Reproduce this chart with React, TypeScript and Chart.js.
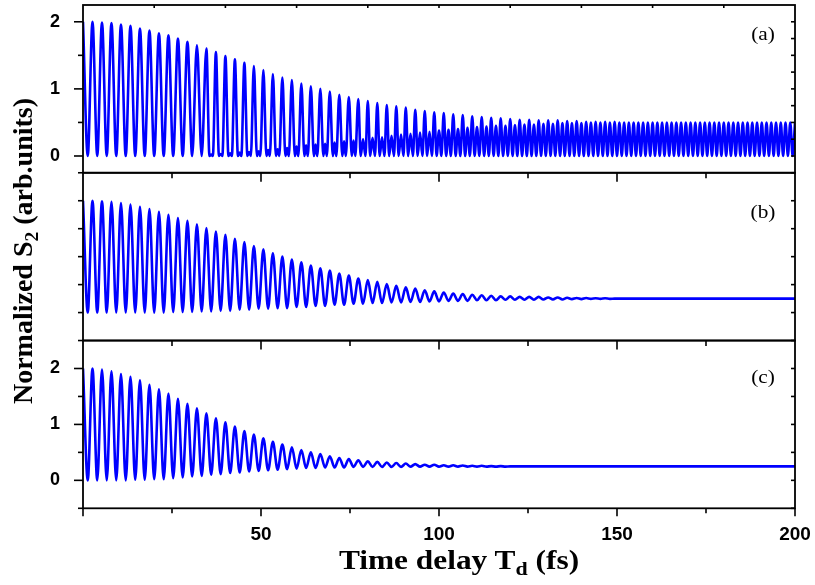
import React, { useEffect, useRef } from 'react';
import { Chart, registerables } from 'chart.js';

Chart.register(...registerables);

// ---- data ----
// spacing of the main oscillation peaks (fs)
const PERIOD = 2.6667;
const X_MIN = 0;
const X_MAX = 200;

// panel (a): main peak heights (one per period, starting at t = 0)
const aPeaks = [
  2.0, 2.0, 1.99, 1.98, 1.96, 1.94, 1.9, 1.87, 1.83, 1.8,
  1.75, 1.7, 1.65, 1.6, 1.55, 1.49, 1.44, 1.39, 1.34, 1.28,
  1.22, 1.17, 1.13, 1.08, 1.04, 1.0, 0.96, 0.91, 0.88, 0.85,
  0.82, 0.79, 0.76, 0.74, 0.72, 0.69, 0.67, 0.65, 0.64, 0.62,
  0.61, 0.59, 0.58, 0.57, 0.56, 0.55, 0.54, 0.54, 0.53, 0.53,
  0.53, 0.52, 0.52, 0.51, 0.51, 0.51, 0.51, 0.5, 0.5, 0.5,
  0.5, 0.5, 0.5, 0.5, 0.5, 0.5, 0.5, 0.5, 0.5, 0.5,
  0.5, 0.5, 0.5, 0.5, 0.5, 0.5,
];
// panel (a): secondary peak between main peaks (0 = no secondary peak)
const aSubPeaks = [
  0, 0, 0, 0, 0, 0, 0, 0, 0, 0,
  0, 0, 0, 0.02, 0.03, 0.04, 0.05, 0.06, 0.07, 0.09,
  0.1, 0.12, 0.14, 0.16, 0.17, 0.18, 0.2, 0.22, 0.23, 0.25,
  0.27, 0.28, 0.3, 0.32, 0.33, 0.35, 0.36, 0.38, 0.39, 0.4,
  0.42, 0.43, 0.44, 0.45, 0.45, 0.46, 0.47, 0.47, 0.48, 0.48,
  0.49, 0.49, 0.49, 0.5, 0.5, 0.5, 0.5, 0.5, 0.5, 0.5,
  0.5, 0.5, 0.5, 0.5, 0.5, 0.5, 0.5, 0.5, 0.5, 0.5,
  0.5, 0.5, 0.5, 0.5, 0.5,
];
const aTrough = 0;

// panel (b): peaks and troughs per period, then flat level
const bPeaks = [
  2.0, 2.0, 1.99, 1.98, 1.96, 1.93, 1.89, 1.85, 1.8, 1.75,
  1.69, 1.64, 1.58, 1.51, 1.45, 1.39, 1.32, 1.26, 1.19, 1.13,
  1.06, 1.0, 0.95, 0.9, 0.84, 0.79, 0.75, 0.7, 0.66, 0.61,
  0.58, 0.55, 0.51, 0.48, 0.45, 0.43, 0.4, 0.38, 0.36, 0.34,
  0.33, 0.32, 0.31, 0.3, 0.29, 0.29, 0.28, 0.28, 0.28, 0.27,
  0.27, 0.265, 0.26, 0.26, 0.255, 0.255,
];
const bTroughs = [
  0, 0, 0, 0, 0, 0, 0, 0, 0, 0.01,
  0.01, 0.01, 0.02, 0.02, 0.03, 0.03, 0.05, 0.05, 0.07, 0.07,
  0.08, 0.08, 0.1, 0.1, 0.12, 0.12, 0.14, 0.14, 0.16, 0.16,
  0.17, 0.17, 0.18, 0.18, 0.19, 0.19, 0.2, 0.2, 0.21, 0.21,
  0.21, 0.22, 0.22, 0.22, 0.23, 0.23, 0.23, 0.23, 0.235, 0.235,
  0.235, 0.24, 0.24, 0.245, 0.245, 0.245,
];
const bTail = 0.25;

// panel (c): peaks and troughs per period, then flat level
const cPeaks = [
  2.0, 2.0, 1.98, 1.95, 1.9, 1.85, 1.79, 1.71, 1.63, 1.55,
  1.46, 1.37, 1.29, 1.2, 1.11, 1.04, 0.96, 0.88, 0.82, 0.75,
  0.69, 0.64, 0.59, 0.54, 0.5, 0.47, 0.43, 0.4, 0.38, 0.36,
  0.34, 0.33, 0.32, 0.31, 0.3, 0.29, 0.28, 0.28, 0.27, 0.27,
  0.265, 0.26, 0.26, 0.255, 0.255,
];
const cTroughs = [
  0, 0, 0, 0, 0, 0.01, 0.01, 0.02, 0.02, 0.04,
  0.05, 0.07, 0.08, 0.1, 0.11, 0.13, 0.14, 0.16, 0.17, 0.18,
  0.19, 0.2, 0.21, 0.22, 0.22, 0.23, 0.23, 0.23, 0.24, 0.24,
  0.24, 0.24, 0.24, 0.24, 0.245, 0.245, 0.245, 0.245, 0.245, 0.245,
  0.245, 0.245, 0.245, 0.245, 0.245,
];
const cTail = 0.25;

// tick labels
const xTickLabels = ['50', '100', '150', '200'];
const yTickLabelsA = ['0', '1', '2'];
const yTickLabelsB: string[] = [];
const yTickLabelsC = ['0', '1', '2'];
const panelLabels = ['(a)', '(b)', '(c)'];

type Pt = { x: number; y: number };

function buildA(): Pt[] {
  const pts: Pt[] = [];
  for (let k = 0; k < aPeaks.length; k++) {
    const t = k * PERIOD;
    pts.push({ x: t, y: aPeaks[k] });
    if (k < aSubPeaks.length) {
      const s = aSubPeaks[k];
      if (s > 0) {
        const f = s >= 0.25 ? 0.25 : 0.32;
        pts.push({ x: t + f * PERIOD, y: aTrough });
        pts.push({ x: t + 0.5 * PERIOD, y: s });
        pts.push({ x: t + (1 - f) * PERIOD, y: aTrough });
      } else {
        pts.push({ x: t + 0.5 * PERIOD, y: aTrough });
      }
    }
  }
  return pts;
}

function buildOsc(peaks: number[], troughs: number[], tail: number): Pt[] {
  const pts: Pt[] = [];
  for (let k = 0; k < peaks.length; k++) {
    pts.push({ x: k * PERIOD, y: peaks[k] });
    if (k < troughs.length) pts.push({ x: (k + 0.5) * PERIOD, y: troughs[k] });
  }
  pts.push({ x: peaks.length * PERIOD, y: tail });
  pts.push({ x: X_MAX, y: tail });
  return pts;
}

const BLUE = '#0000FF';
const SANS = '"Liberation Sans", Arial, Helvetica, sans-serif';
const SERIF = '"Liberation Serif", "Times New Roman", Times, serif';

// tick layout for the frame (positions in data units, drawn via the scales)
const PANELS = [
  { id: 'yA', leftMajor: [0, 1, 2], leftMinor: [0.5, 1.5], right: [0, 0.25, 0.5, 0.75, 1, 1.25, 1.5, 1.75, 2], topInward: [20, 40, 60, 80, 100, 120, 140, 160, 180], topMajor: [] as number[], topMinor: [] as number[] },
  { id: 'yB', leftMajor: [] as number[], leftMinor: [0, 0.5, 1, 1.5, 2, 2.5], right: [0, 0.5, 1, 1.5, 2, 2.5], topInward: [] as number[], topMajor: [50, 100, 150], topMinor: [25, 75, 125, 175] },
  { id: 'yC', leftMajor: [0, 1, 2], leftMinor: [-0.5, 0.5, 1.5, 2.5], right: [-0.5, 0, 0.5, 1, 1.5, 2, 2.5], topInward: [] as number[], topMajor: [50, 100, 150], topMinor: [25, 75, 125, 175] },
];
const bottomMajor = [0, 50, 100, 150, 200];
const bottomMinor = [25, 75, 125, 175];

const framePlugin = {
  id: 'frameTicks',
  afterDatasetsDraw(chart: any) {
    const { ctx, chartArea } = chart;
    const { left, right, bottom } = chartArea;
    const xs = chart.scales.x;
    ctx.save();
    ctx.strokeStyle = '#000';
    ctx.lineCap = 'butt';
    const seg = (x1: number, y1: number, x2: number, y2: number, w: number) => {
      ctx.lineWidth = w;
      ctx.beginPath();
      ctx.moveTo(x1, y1);
      ctx.lineTo(x2, y2);
      ctx.stroke();
    };
    const TW = 1.6;
    for (const p of PANELS) {
      const s = chart.scales[p.id];
      for (const v of p.leftMajor) { const y = s.getPixelForValue(v); seg(left, y, left - 9, y, TW); }
      for (const v of p.leftMinor) { const y = s.getPixelForValue(v); seg(left, y, left - 5, y, TW); }
      for (const v of p.right) { const y = s.getPixelForValue(v); seg(right, y, right - 4, y, TW); }
      for (const v of p.topInward) { const x = xs.getPixelForValue(v); seg(x, s.top, x, s.top + 3, TW); }
      for (const v of p.topMajor) { const x = xs.getPixelForValue(v); seg(x, s.top, x, s.top + 9, TW); }
      for (const v of p.topMinor) { const x = xs.getPixelForValue(v); seg(x, s.top, x, s.top + 5.5, TW); }
    }
    for (const v of bottomMajor) { const x = xs.getPixelForValue(v); seg(x, bottom, x, bottom + 8, TW); }
    for (const v of bottomMinor) { const x = xs.getPixelForValue(v); seg(x, bottom, x, bottom + 5, TW); }
    // panel frames
    ctx.lineWidth = 1.8;
    for (const p of PANELS) {
      const s = chart.scales[p.id];
      ctx.strokeRect(left, s.top, right - left, s.bottom - s.top);
    }
    ctx.restore();
  },
};

function yScale(min: number, max: number, step: number, labels: string[], weight: number) {
  return {
    type: 'linear' as const,
    position: 'left' as const,
    stack: 'panels',
    stackWeight: 1,
    weight,
    min,
    max,
    afterFit: (s: any) => {
      s.width = 83;
      s.paddingTop = 0;
      s.paddingBottom = 0;
      s.paddingLeft = 0;
      s.paddingRight = 0;
    },
    grid: { display: false },
    border: { display: false },
    ticks: {
      stepSize: step,
      autoSkip: false,
      padding: 15,
      color: '#000',
      font: { family: SANS, size: 18, weight: 'bold' as const },
      callback: (v: any) => (labels.includes(String(v)) ? String(v) : ''),
    },
  };
}

export default function App() {
  const ref = useRef<HTMLCanvasElement | null>(null);
  useEffect(() => {
    if (!ref.current) return;
    const common = {
      borderColor: BLUE,
      borderWidth: 2.6,
      pointRadius: 0,
      fill: false,
      cubicInterpolationMode: 'monotone' as const,
    };
    const chart = new Chart(ref.current, {
      type: 'line',
      data: {
        datasets: [
          { ...common, label: panelLabels[0], data: buildA(), yAxisID: 'yA' },
          { ...common, label: panelLabels[1], data: buildOsc(bPeaks, bTroughs, bTail), yAxisID: 'yB' },
          { ...common, label: panelLabels[2], data: buildOsc(cPeaks, cTroughs, cTail), yAxisID: 'yC' },
        ],
      },
      options: {
        animation: false,
        responsive: false,
        devicePixelRatio: 1,
        layout: { padding: { left: 0, right: 20, top: 5, bottom: 0 } },
        plugins: { legend: { display: false }, tooltip: { enabled: false }, title: { display: false } },
        scales: {
          x: {
            type: 'linear',
            min: X_MIN,
            max: X_MAX,
            position: 'bottom',
            afterFit: (s: any) => {
              s.height = 76.7;
              s.paddingLeft = 0;
              s.paddingRight = 0;
              s.paddingTop = 0;
              s.paddingBottom = 0;
            },
            grid: { display: false },
            border: { display: false },
            ticks: {
              stepSize: 25,
              autoSkip: false,
              maxRotation: 0,
              padding: 7,
              color: '#000',
              font: { family: SANS, size: 19, weight: 'bold' },
              callback: (v: any) => (xTickLabels.includes(String(v)) ? String(v) : ''),
            },
          },
          yC: yScale(-0.5, 2.5, 0.5, yTickLabelsC, 1),
          yB: yScale(-0.5, 2.5, 0.5, yTickLabelsB, 2),
          yA: yScale(-0.25, 2.25, 0.25, yTickLabelsA, 3),
        },
      } as any,
      plugins: [framePlugin],
    });
    return () => chart.destroy();
  }, []);

  const labelStyle = (cy: number): React.CSSProperties => ({
    position: 'absolute',
    left: 733,
    top: cy - 12,
    width: 60,
    height: 24,
    lineHeight: '24px',
    textAlign: 'center',
    fontFamily: SERIF,
    fontSize: 19,
    color: '#000',
    transform: 'scaleX(1.12)',
  });

  return (
    <div style={{ position: 'fixed', left: 0, top: 0, width: 815, height: 585, background: '#fff', overflow: 'hidden' }}>
      <canvas ref={ref} width={815} height={585} style={{ position: 'absolute', left: 0, top: 0, width: 815, height: 585 }} />
      <div
        style={{
          position: 'absolute',
          left: 23 - 170,
          top: 251 - 16,
          width: 340,
          height: 32,
          lineHeight: '32px',
          textAlign: 'center',
          transform: 'rotate(-90deg)',
          fontFamily: SERIF,
          fontWeight: 'bold',
          fontSize: 28,
          color: '#000',
          whiteSpace: 'nowrap',
        }}
      >
        Normalized S<span style={{ fontSize: '0.7em', position: 'relative', top: '0.3em' }}>2</span> (arb.units)
      </div>
      <div
        style={{
          position: 'absolute',
          left: 459 - 170,
          top: 545,
          width: 340,
          height: 30,
          lineHeight: '30px',
          textAlign: 'center',
          fontFamily: SERIF,
          fontWeight: 'bold',
          fontSize: 28,
          color: '#000',
          whiteSpace: 'nowrap',
          transform: 'scaleX(1.12)',
        }}
      >
        Time delay T<span style={{ fontSize: '0.7em', position: 'relative', top: '0.3em' }}>d</span> (fs)
      </div>
      <div style={labelStyle(34)}>{panelLabels[0]}</div>
      <div style={labelStyle(212)}>{panelLabels[1]}</div>
      <div style={labelStyle(377)}>{panelLabels[2]}</div>
    </div>
  );
}
